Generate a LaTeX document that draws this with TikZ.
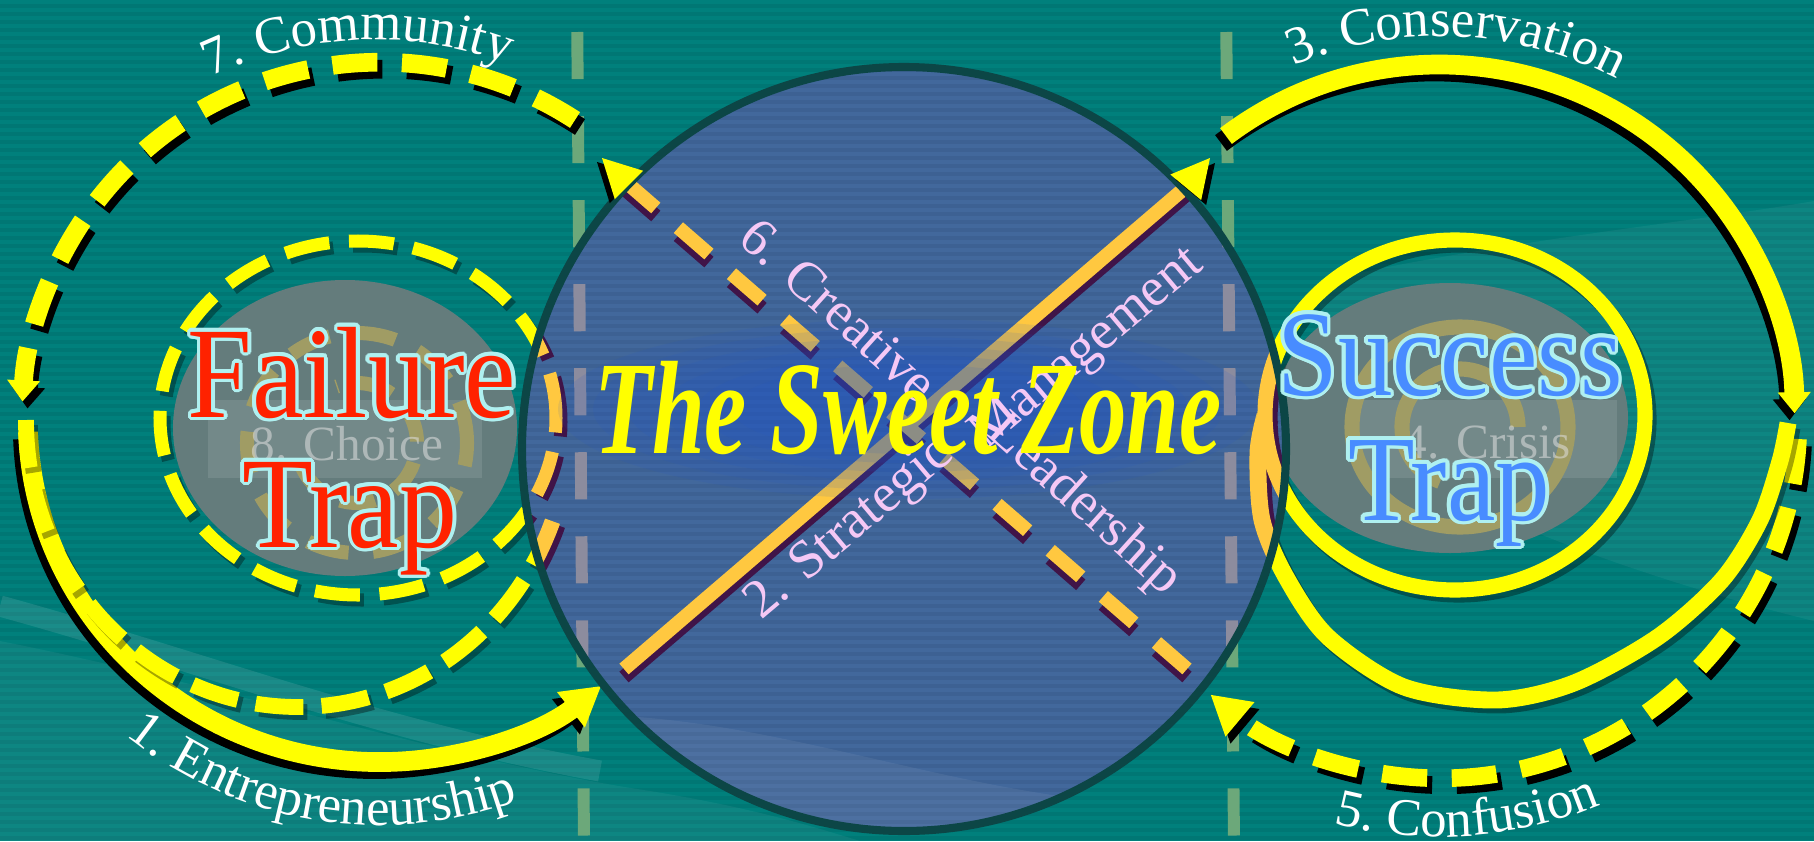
\documentclass[tikz,border=0pt]{standalone}
\usepackage{fontspec}
\setmainfont{Liberation Serif}
\usepackage{contour}
\usepackage{tikz}
\usetikzlibrary{arrows.meta,calc,decorations.text,positioning}

\definecolor{bgteal}{RGB}{0,128,124}
\definecolor{stripeteal}{RGB}{0,119,116}
\definecolor{zonefill}{RGB}{66,104,156}
\definecolor{zonestripe}{RGB}{61,97,147}
\definecolor{zoneborder}{RGB}{12,70,70}
\definecolor{loopyellow}{RGB}{255,255,0}
\definecolor{lineorange}{RGB}{255,200,64}
\definecolor{shadowpurple}{RGB}{64,20,72}
\definecolor{dashgreen}{RGB}{108,168,122}
\definecolor{dashgray}{RGB}{140,140,158}
\definecolor{blobgray}{RGB}{100,124,124}
\definecolor{ringfaint}{RGB}{160,156,100}
\definecolor{failred}{RGB}{255,34,0}
\definecolor{succblue}{RGB}{72,140,255}
\definecolor{rimcyan}{RGB}{175,240,240}
\definecolor{labelpink}{RGB}{245,200,245}
\definecolor{glowblue}{RGB}{30,85,205}

\contourlength{1pt}
\newcommand\outerfont{\fontsize{15pt}{15pt}\selectfont}

\newcommand\commpath{(575,721) arc[start angle=57, end angle=177, radius=358]}
\newcommand\entrpath{(28,409) arc[start angle=182, end angle=309, x radius=352, y radius=342]}
\newcommand\conspath{(1226,705) arc[start angle=127, end angle=1, radius=355]}
\newcommand\confpath{(1798,402) arc[start angle=-3, end angle=-130, radius=358]}
\newcommand\choiceloop{(26,421) arc[start angle=180, end angle=342, x radius=272, y radius=287]}
\newcommand\choicering{(358,423) ellipse[x radius=198, y radius=177]}
\newcommand\crisisloop{plot[smooth] coordinates {(1788,418) (1780,380) (1760,321) (1722,261) (1658,204) (1574,158) (1497,141) (1404,154) (1328,204) (1286,264) (1262,321) (1258,388) (1265,426)}}
\newcommand\crisisring{(1455,426) ellipse[x radius=190, y radius=175]}

\newcommand\zonetip[3]{%
  \path ($(#1)!0.38cm!(#2)$) coordinate (tipbase);
  \path ($(tipbase)!0.2cm!90:(#1)$) coordinate (tipl);
  \path ($(tipbase)!0.2cm!-90:(#1)$) coordinate (tipr);
  \fill[black] ([shift={#3}]#1) -- ([shift={#3}]tipl) -- ([shift={#3}]tipr) -- cycle;
  \fill[loopyellow] (#1) -- (tipl) -- (tipr) -- cycle;}

\tikzset{
  stripe/.style={line width=1.1pt},
  vdash/.style={line width=3.4pt, dash pattern=on 13.4pt off 10.5pt, dash phase=14.8pt},
  loopsolid/.style={draw=loopyellow, line width=5.6pt},
  loopdash/.style={draw=loopyellow, line width=5.3pt, dash pattern=on 12.8pt off 7pt},
  middash/.style={line width=4.5pt, dash pattern=on 13.6pt off 5.2pt},
  ringdash/.style={line width=3.7pt, dash pattern=on 12.8pt off 5.6pt},
  xline/.style={line width=4pt},
  xdash/.style={line width=4pt, dash pattern=on 11.5pt off 8.5pt},
  zonedisc/.style={circle, fill=zonefill, minimum size=7.64cm, inner sep=0pt},
  zonelabel/.style={text=labelpink, font=\fontsize{15.5pt}{16pt}\selectfont},
  traplabel/.style={anchor=base, font=\fontsize{33pt}{36pt}\selectfont},
  faintlabel/.style={anchor=base, text=white!75!gray, opacity=0.55, font=\fontsize{14pt}{16pt}\selectfont},
  bigtip/.style={-{Triangle[length=11pt,width=12pt]}},
  smalltip/.style={-{Triangle[length=6pt,width=9pt]}}
}

\begin{document}
\begin{tikzpicture}[x=0.01cm, y=0.01cm]
  \useasboundingbox (0,0) rectangle (1814,841);
  \fill[bgteal] (0,0) rectangle (1814,841);
  \foreach \k in {3,11,...,841}
    \draw[stripe, stripeteal] (0,\k) -- (1814,\k);
  \fill[white, opacity=0.05] (0,200) .. controls (250,150) and (450,80) .. (650,50) .. controls (760,32) and (820,12) .. (860,0) -- (0,0) -- cycle;
  \draw[white, opacity=0.1, line width=6pt] (0,235) .. controls (200,180) and (380,110) .. (600,70);
  \fill[white, opacity=0.05] (1320,560) .. controls (1500,600) and (1700,620) .. (1814,640) -- (1814,220) .. controls (1650,260) and (1450,330) .. (1320,420) -- cycle;

  \coordinate (guideLt) at (577,841);
  \coordinate (guideLb) at (584,0);
  \coordinate (guideRt) at (1226,841);
  \coordinate (guideRb) at (1234,0);
  \coordinate (stratA) at (624,172);
  \coordinate (stratB) at (1186,654);
  \coordinate (stratTip) at (1210,683);
  \coordinate (creaA) at (1187,172);
  \coordinate (creaB) at (627,658);
  \coordinate (creaTip) at (602,683);

  \draw[vdash, dashgreen] (guideLt) -- (guideLb);
  \draw[vdash, dashgreen] (guideRt) -- (guideRb);

  % the two traps
  \fill[blobgray] (345,413) ellipse[x radius=172, y radius=148];
  \fill[blobgray] (1450,423) ellipse[x radius=178, y radius=135];
  \fill[white, opacity=0.1] (208,363) rectangle (482,441);
  \fill[white, opacity=0.1] (1358,363) rectangle (1617,441);
  \draw[ringfaint, line width=4pt, dash pattern=on 12pt off 7pt] (357,398) circle[radius=110];
  \draw[ringfaint, line width=4pt, dash pattern=on 10pt off 6pt] (357,398) ++(200:60) arc[start angle=200, end angle=470, radius=60];
  \draw[ringfaint, line width=4.3pt] (1460,414) ellipse[x radius=108, y radius=100];
  \draw[ringfaint, line width=4.3pt] (1460,414) ++(0:58) arc[start angle=0, end angle=250, radius=58];
  \node[faintlabel] (choice) at (347,381) {8. Choice};
  \node[faintlabel] (crisis) at (1487,383) {4. Crisis};

  % loops
  \draw[black, line width=5.3pt, dash pattern=on 12.8pt off 7pt, shift={(5,-7)}, smalltip] \commpath;
  \draw[loopdash, smalltip] \commpath;
  \draw[black, line width=5.6pt, shift={(-5,-7)}, bigtip] \entrpath;
  \draw[loopsolid, bigtip] \entrpath;
  \draw[black, line width=5.6pt, shift={(-5,-7)}, smalltip] \conspath;
  \draw[loopsolid, smalltip] \conspath;
  \draw[black, line width=5pt, dash pattern=on 12.8pt off 7pt, shift={(5,-7)}, bigtip] \confpath;
  \draw[loopdash, line width=5pt, bigtip] \confpath;
  \draw[black, opacity=0.35, middash, shift={(4,-5)}] \choiceloop;
  \draw[loopyellow, middash] \choiceloop;
  \draw[black, opacity=0.35, ringdash, shift={(4,-5)}] \choicering;
  \draw[loopyellow, ringdash] \choicering;
  \draw[black, opacity=0.35, line width=4.8pt, shift={(4,-5)}] \crisisloop;
  \draw[loopyellow, line width=4.8pt] \crisisloop;
  \draw[black, opacity=0.35, line width=4.3pt, shift={(4,-5)}] \crisisring;
  \draw[loopyellow, line width=4.3pt] \crisisring;

  % the sweet zone
  \node[zonedisc] (zone) at (904,392) {};
  \begin{scope}
    \clip (zone.center) circle[radius=382];
    \foreach \k in {3,11,...,841}
      \draw[stripe, zonestripe] (0,\k) -- (1814,\k);
    \fill[white, opacity=0.06] (500,120) .. controls (700,150) and (900,60) .. (1100,40) -- (1100,0) -- (500,0) -- cycle;
    \draw[vdash, dashgray] (guideLt) -- (guideLb);
    \draw[vdash, dashgray] (guideRt) -- (guideRb);
    \draw[shadowpurple, middash, shift={(5,-4)}] \choiceloop;
    \draw[lineorange, middash] \choiceloop;
    \draw[shadowpurple, ringdash, shift={(5,-4)}] \choicering;
    \draw[lineorange, ringdash] \choicering;
    \draw[shadowpurple, line width=4.8pt, shift={(5,-4)}] \crisisloop;
    \draw[lineorange, line width=4.8pt] \crisisloop;
    \draw[shadowpurple, line width=4.3pt, shift={(5,-4)}] \crisisring;
    \draw[lineorange, line width=4.3pt] \crisisring;

    \draw[xline, shadowpurple] ([yshift=-0.08cm]stratA) -- ([yshift=-0.08cm]stratB);
    \draw[xline, lineorange] (stratA) -- (stratB);
    \draw[xdash, shadowpurple] ([yshift=-0.08cm]creaA) -- ([yshift=-0.08cm]creaB);
    \draw[xdash, lineorange] (creaA) -- (creaB);
    \foreach \s in {1,0.9,...,0.45}
      \fill[glowblue, opacity=0.11] (908,432) ellipse[x radius=350*\s, y radius=90*\s];
  \end{scope}
  \draw[zoneborder, line width=2.3pt] (zone.center) circle[radius=382];

  \zonetip{stratTip}{stratB}{(5,-5)}
  \zonetip{creaTip}{creaB}{(-5,-4)}

  % labels
  \node[zonelabel, rotate=-42] (creat) at (839,531) {6. Creative};
  \node[zonelabel, rotate=-42] (lead) at (1084,335) {Leadership};
  \node[zonelabel, rotate=40] (strat) at (850,311) {2. Strategic};
  \node[zonelabel, rotate=40] (mgmt) at (1088,491) {Management};
  \node[anchor=base, text=loopyellow, font=\fontsize{27pt}{30pt}\selectfont\bfseries\itshape] (zonetitle) at (908,388) {\scalebox{1}[1.4]{The Sweet Zone}};

  \node[traplabel, text=failred] (failw) at (352,424) {\scalebox{1}[1.12]{\contour{rimcyan}{Failure}}};
  \node[traplabel, text=failred] (failt) at (350,294) {\scalebox{1}[1.12]{\contour{rimcyan}{Trap}}};
  \node[traplabel, text=succblue, font=\fontsize{31pt}{34pt}\selectfont] (succw) at (1450,446) {\scalebox{1}[1.12]{\contour{rimcyan}{Success}}};
  \node[traplabel, text=succblue, font=\fontsize{31pt}{34pt}\selectfont] (succt) at (1449,321) {\scalebox{1}[1.12]{\contour{rimcyan}{Trap}}};

  \path[decorate, decoration={text along path, text align=center, text color=white, text={|\outerfont|7. Community}}] (33,593) arc[start angle=152.6, end angle=32.6, radius=385];
  \path[decorate, decoration={text along path, text align=center, text color=white, text={|\outerfont|3. Conservation}}] (1116,627) arc[start angle=147.5, end angle=27.5, radius=384];
  \path[decorate, decoration={text along path, text align=center, text color=white, text={|\outerfont|1. Entrepreneurship}}] (1,279) arc[start angle=200.5, end angle=320.5, radius=405];
  \path[decorate, decoration={text along path, text align=center, text color=white, text={|\outerfont|5. Confusion}}] (1094,188) arc[start angle=214, end angle=334, radius=417];
\end{tikzpicture}
\end{document}
